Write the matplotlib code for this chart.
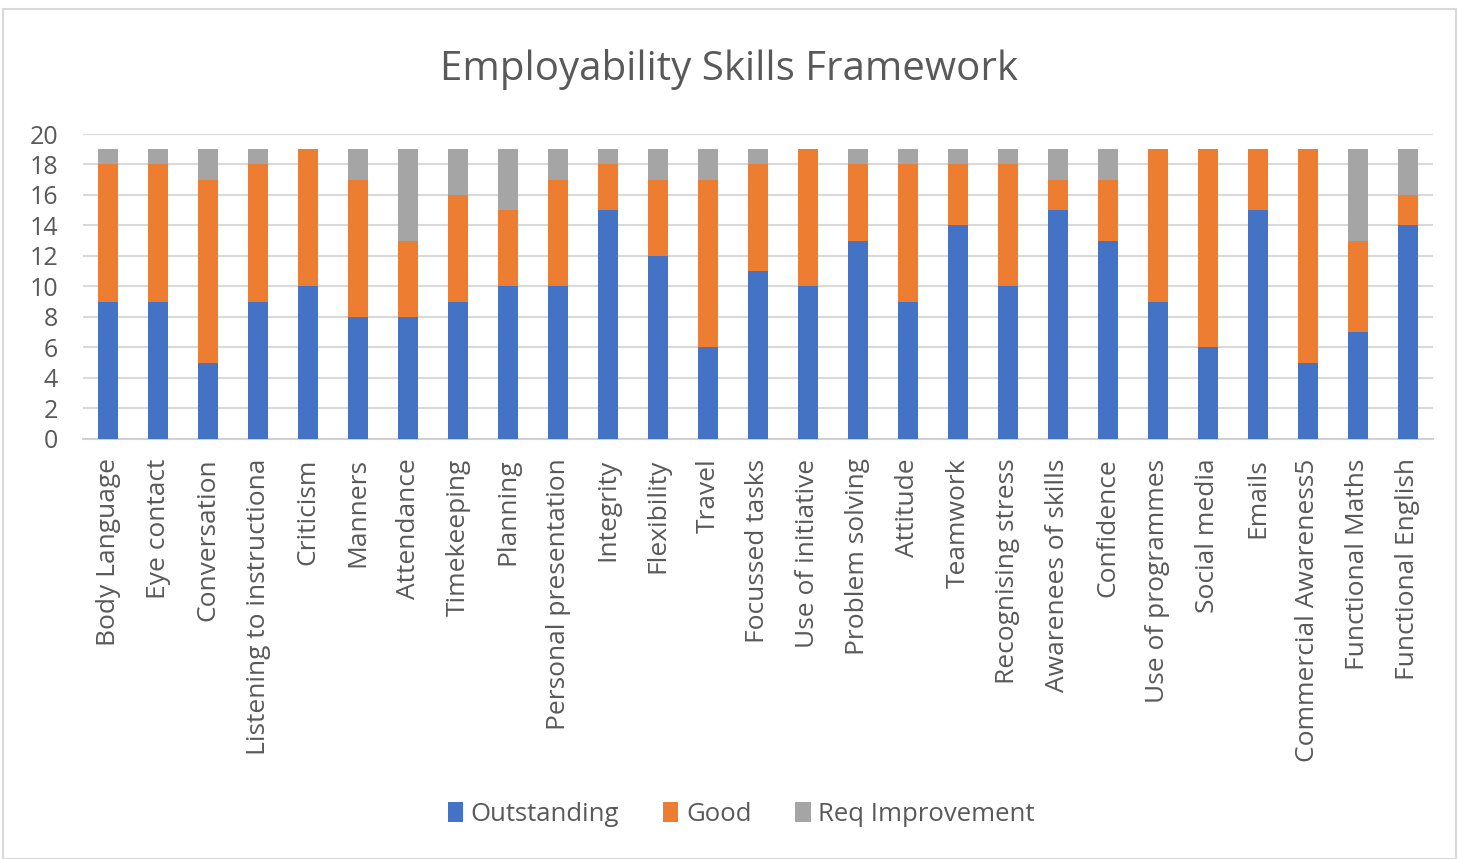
import numpy as np
import matplotlib.pyplot as plt
from matplotlib.patches import Rectangle

# Skill categories and counts per rating
skills = ['Body Language', 'Eye contact', 'Conversation', 'Listening to instructiona',
          'Criticism', 'Manners', 'Attendance', 'Timekeeping', 'Planning',
          'Personal presentation', 'Integrity', 'Flexibility', 'Travel',
          'Focussed tasks', 'Use of initiative', 'Problem solving', 'Attitude',
          'Teamwork', 'Recognising stress', 'Awarenees of skills', 'Confidence',
          'Use of programmes', 'Social media', 'Emails', 'Commercial Awareness5',
          'Functional Maths', 'Functional English']
outstanding = [9, 9, 5, 9, 10, 8, 8, 9, 10, 10, 15, 12, 6, 11, 10, 13, 9, 14, 10, 15, 13, 9, 6, 15, 5, 7, 14]
good = [9, 9, 12, 9, 9, 9, 5, 7, 5, 7, 3, 5, 11, 7, 9, 5, 9, 4, 8, 2, 4, 10, 13, 4, 14, 6, 2]
req_improvement = [1, 1, 2, 1, 0, 2, 6, 3, 4, 2, 1, 2, 2, 1, 0, 1, 1, 1, 1, 2, 2, 0, 0, 0, 0, 6, 3]

plt.rcParams['font.family'] = ['Open Sans', 'DejaVu Sans']
text_color = '#595959'

fig = plt.figure(figsize=(14.59, 8.59), dpi=100)
ax = fig.add_axes([0.057, 0.489, 0.925, 0.355])

x = np.arange(len(skills))
o = np.array(outstanding)
g = np.array(good)
r = np.array(req_improvement)
w = 0.4
ax.bar(x, o, w, color='#4472C4', label='Outstanding', zorder=3)
ax.bar(x, g, w, bottom=o, color='#ED7D31', label='Good', zorder=3)
ax.bar(x, r, w, bottom=o + g, color='#A5A5A5', label='Req Improvement', zorder=3)

ax.set_xlim(-0.5, len(skills) - 0.5)
ax.set_ylim(0, 20)
ax.set_yticks(range(0, 21, 2))
ax.grid(axis='y', color='#D9D9D9', lw=1.5, zorder=0)
for s in ['top', 'right', 'left']:
    ax.spines[s].set_visible(False)
ax.spines['bottom'].set_color('#D0D0D0')
ax.spines['bottom'].set_linewidth(1.5)
ax.tick_params(axis='both', length=0, colors=text_color)
ax.tick_params(axis='y', pad=18, labelsize=18)
ax.tick_params(axis='x', pad=14, labelsize=19)
ax.set_xticks(x)
ax.set_xticklabels(skills, rotation=90, va='top')

fig.suptitle('Employability Skills Framework', y=0.943, fontsize=29, color=text_color)
fig.legend(loc='center', bbox_to_anchor=(0.508, 0.052), ncol=3, frameon=False,
           fontsize=18.5, labelcolor=text_color, handlelength=0.6, handleheight=0.8,
           handletextpad=0.3, columnspacing=1.7)

fig.patches.append(Rectangle((0.002, 0.0), 0.996, 0.99, transform=fig.transFigure,
                             fill=False, edgecolor='#D9D9D9', lw=1.5))

plt.savefig('out.png', dpi=100)
plt.close()
